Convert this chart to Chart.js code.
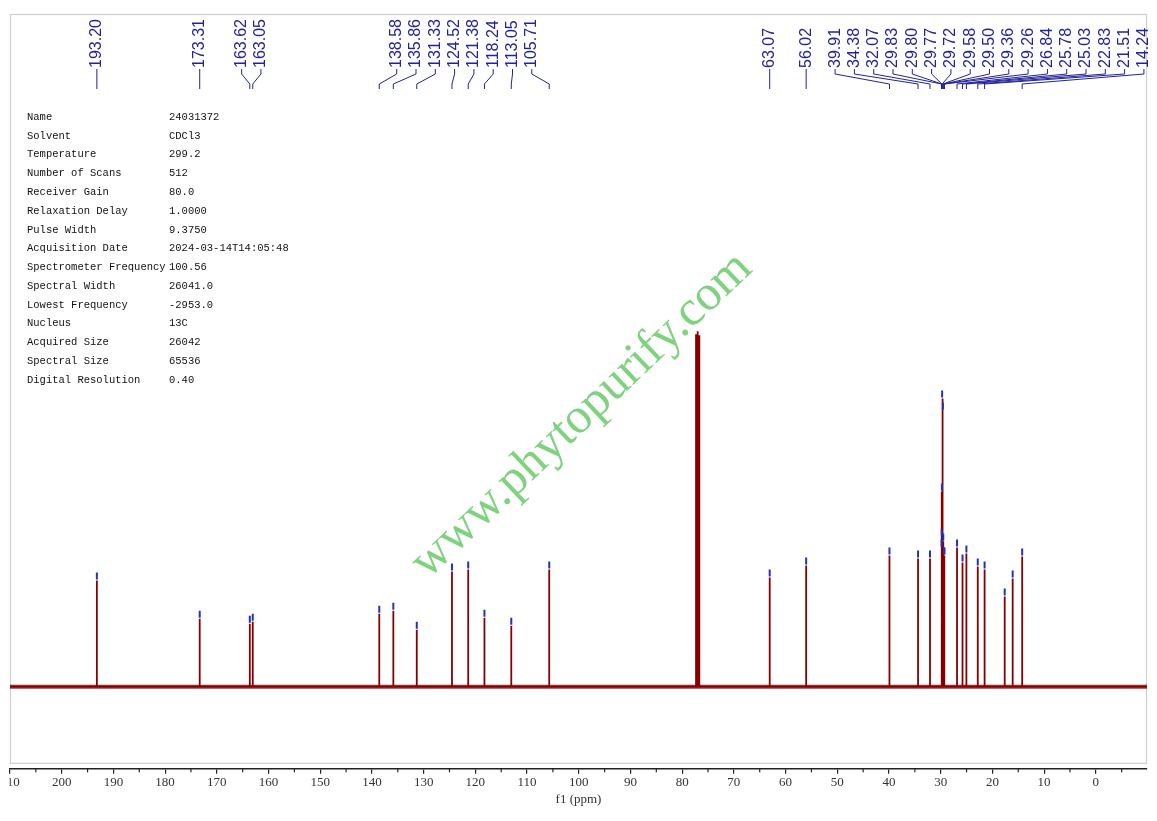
<!DOCTYPE html>
<html><head><meta charset="utf-8">
<script src="https://cdn.jsdelivr.net/npm/chart.js@4.4.1/dist/chart.umd.min.js"></script>
<style>html,body{margin:0;padding:0;background:#fff;overflow:hidden}#wrap{position:relative;width:1157px;height:821px}</style>
</head><body><div id="wrap"><canvas id="c"></canvas></div>
<script>
// ---- data ----
const peakShifts  = [193.20,173.31,163.62,163.05,138.58,135.86,131.33,124.52,121.38,118.24,113.05,105.71,63.07,56.02,39.91,34.38,32.07,29.83,29.80,29.77,29.72,29.58,29.50,29.36,29.26,26.84,25.78,25.03,22.83,21.51,14.24];
const peakHeights = [106,68,63,65,73,76,57,115,117,69,61,117,109,121,131,128,128,139,150,195,288,276,145,131,131,139,124,133,120,117,130];
const peakLabels  = ["193.20","173.31","163.62","163.05","138.58","135.86","131.33","124.52","121.38","118.24","113.05","105.71","63.07","56.02","39.91","34.38","32.07","29.83","29.80","29.77","29.72","29.58","29.50","29.36","29.26","26.84","25.78","25.03","22.83","21.51","14.24"];
const extraShifts  = [17.62,16.08];
const extraHeights = [90,108];
const solventShifts  = [77.32,77.00,76.68];
const solventHeights = [352,355,351];
const majorTicks = [210,200,190,180,170,160,150,140,130,120,110,100,90,80,70,60,50,40,30,20,10,0];
const minorTicks = [205,195,185,175,165,155,145,135,125,115,105,95,85,75,65,55,45,35,25,15,5,-5];
const axisMax = 210, axisMin = -9.9;
const intensityMin = -82, intensityMax = 672;
const paramNames  = ["Name","Solvent","Temperature","Number of Scans","Receiver Gain","Relaxation Delay","Pulse Width","Acquisition Date","Spectrometer Frequency","Spectral Width","Lowest Frequency","Nucleus","Acquired Size","Spectral Size","Digital Resolution"];
const paramValues = ["24031372","CDCl3","299.2","512","80.0","1.0000","9.3750","2024-03-14T14:05:48","100.56","26041.0","-2953.0","13C","26042","65536","0.40"];
const watermarkText = "www.phytopurify.com";
const axisTitle = "f1 (ppm)";

// ---- build library datasets from the arrays ----
const allPeaks = [];
peakShifts.forEach((p,i)=>allPeaks.push([p,peakHeights[i]]));
extraShifts.forEach((p,i)=>allPeaks.push([p,extraHeights[i]]));
solventShifts.forEach((p,i)=>allPeaks.push([p,solventHeights[i]]));
allPeaks.sort((a,b)=>b[0]-a[0]);
const spectrum = [{x:axisMax,y:0}];
allPeaks.forEach(([p,h])=>{spectrum.push({x:p,y:0},{x:p,y:h},{x:p,y:0});});
spectrum.push({x:axisMin,y:0});
const markerPts = [];
peakShifts.forEach((p,i)=>markerPts.push({x:p,y:peakHeights[i]+4.5}));
extraShifts.forEach((p,i)=>markerPts.push({x:p,y:extraHeights[i]+4.5}));

const NAVY = '#22229a';

const framePlugin = {
  id:'frame',
  beforeDraw(chart){
    const {ctx, chartArea:a} = chart;
    ctx.save();
    ctx.fillStyle='#fff'; ctx.fillRect(0,0,chart.width,chart.height);
    ctx.strokeStyle='#cfcfcf'; ctx.lineWidth=1.2;
    ctx.strokeRect(a.left+0.5, a.top+0.5, a.right-a.left-1, a.bottom-a.top-6);
    ctx.restore();
  },
  afterDatasetsDraw(chart){
    const {ctx, chartArea:a} = chart;
    ctx.save();
    ctx.translate(a.left + (a.right-a.left)*0.503, a.top + (a.bottom-a.top)*0.532);
    ctx.rotate(-43.5*Math.PI/180);
    ctx.font = '50px "Liberation Serif"';
    ctx.fillStyle = '#80d280';
    ctx.textAlign='center'; ctx.textBaseline='middle';
    ctx.fillText(watermarkText,0,0);
    ctx.restore();
  },
  afterDraw(chart){
    const {ctx, chartArea:a} = chart;
    const xs = chart.scales.x;
    ctx.save();
    ctx.strokeStyle='#222'; ctx.lineWidth=1.2;
    minorTicks.forEach(v=>{
      const x = xs.getPixelForValue(v);
      if (x < a.left || x > a.right) return;
      ctx.beginPath(); ctx.moveTo(x, a.bottom); ctx.lineTo(x, a.bottom+3.5); ctx.stroke();
    });
    // tick labels are clipped at the frame edge
    ctx.fillStyle='#fff';
    ctx.fillRect(0, a.bottom+6, a.left-0.5, 20);

    // parameter block
    ctx.font = '10.5px "Liberation Mono"';
    ctx.fillStyle = '#111'; ctx.textBaseline='middle'; ctx.textAlign='left';
    paramNames.forEach((n,i)=>{
      const y = a.top + 103 + i*18.79;
      ctx.fillText(n, a.left+17, y);
      ctx.fillText(paramValues[i], a.left+159, y);
    });

    // peak labels: group close peaks, spread them evenly, keep groups apart
    const items = peakShifts.map((p,i)=>({px:xs.getPixelForValue(p), text:peakLabels[i]})).sort((u,v)=>u.px-v.px);
    const G = 19.3, T = 40;
    const groups = [];
    items.forEach(it=>{
      const g = groups[groups.length-1];
      if (g && it.px - g[g.length-1].px < T) g.push(it); else groups.push([it]);
    });
    let prevLast = -Infinity;
    groups.forEach(g=>{
      let ok = true;
      for (let i=1;i<g.length;i++) if (g[i].px-g[i-1].px < G) ok=false;
      if (ok) { g.forEach(it=>it.lx=it.px); }
      else {
        const mid = (g[0].px + g[g.length-1].px)/2;
        const start = mid - (g.length-1)*G/2;
        g.forEach((it,i)=>it.lx = start + i*G);
      }
      if (g[0].lx < prevLast + G - 0.01) {
        const shift = prevLast + 1.5*G - g[0].lx;
        g.forEach(it=>it.lx += shift);
      }
      prevLast = g[g.length-1].lx;
    });

    const yText = a.top + 54, y1 = a.top + 55, y2 = a.top + 60, y3 = a.top + 70, y4 = a.top + 75;
    ctx.strokeStyle = NAVY; ctx.lineWidth = 1;
    items.forEach(it=>{
      ctx.beginPath();
      ctx.moveTo(it.lx, y1); ctx.lineTo(it.lx, y2); ctx.lineTo(it.px, y3); ctx.lineTo(it.px, y4);
      ctx.stroke();
    });
    ctx.fillStyle = NAVY; ctx.font = '16px "Liberation Sans"';
    ctx.textAlign='left'; ctx.textBaseline='middle';
    items.forEach(it=>{
      ctx.save();
      ctx.translate(it.lx, yText);
      ctx.rotate(-Math.PI/2);
      ctx.fillText(it.text, 0, 0);
      ctx.restore();
    });
    ctx.restore();
  }
};

new Chart(document.getElementById('c'), {
  type:'line',
  data:{datasets:[
    {label:'peaks', data:markerPts, showLine:false, pointStyle:'line', rotation:90, pointRadius:3.5, pointBorderWidth:2, borderColor:'#2233bb', pointBorderColor:'#2233bb', pointHoverRadius:3.5},
    {label:'spectrum', data:spectrum, borderColor:'#850000', borderWidth:1.8, pointRadius:0, tension:0, borderJoinStyle:'bevel', fill:false},
    {label:'baseline', data:[{x:axisMax,y:0},{x:axisMin,y:0}], borderColor:'rgba(135,10,10,0.8)', borderWidth:4, pointRadius:0, fill:false}
  ]},
  options:{
    responsive:true, maintainAspectRatio:false, animation:false,
    events:[],
    layout:{padding:{left:10,right:10,top:14,bottom:14}},
    plugins:{legend:{display:false}, tooltip:{enabled:false}},
    scales:{
      x:{type:'linear', reverse:true, min:axisMin, max:axisMax, position:'bottom',
        afterBuildTicks:s=>{s.ticks = majorTicks.map(v=>({value:v}));},
        afterFit:s=>{s.paddingLeft=0; s.paddingRight=0;},
        ticks:{autoSkip:false, maxRotation:0, minRotation:0, padding:1, color:'#333', font:{family:'Liberation Serif', size:13}, callback:v=>String(v)},
        grid:{drawOnChartArea:false, drawTicks:true, tickLength:5, color:'#222', lineWidth:1.2},
        border:{display:true, color:'#222', width:1.6},
        title:{display:true, text:axisTitle, color:'#333', font:{family:'Liberation Serif', size:13}, padding:{top:0,bottom:0}}
      },
      y:{display:false, min:intensityMin, max:intensityMax}
    }
  },
  plugins:[framePlugin]
});
</script></body></html>
